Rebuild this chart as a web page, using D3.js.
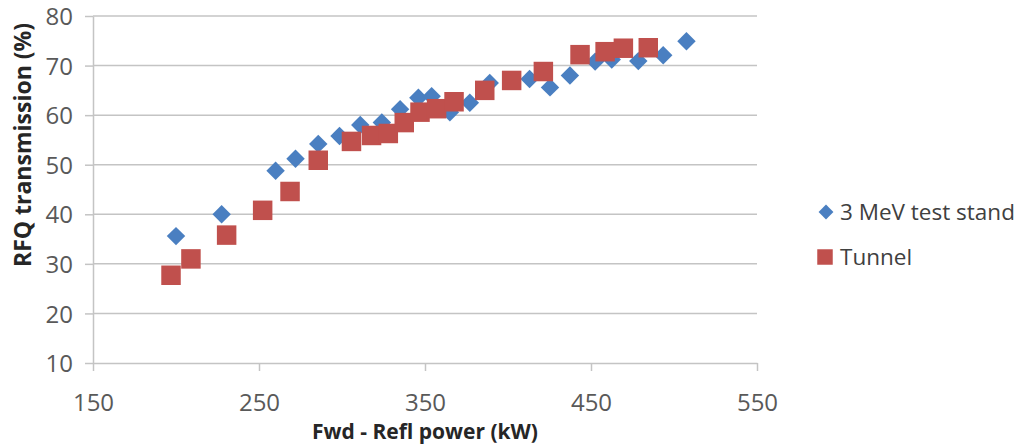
<!DOCTYPE html>
<html lang="en">
<head>
<meta charset="utf-8">
<script src="https://d3js.org/d3.v7.min.js"></script>
<style>
  body { margin: 0; background: #fff; }
  text { font-family: "Open Sans", sans-serif; }
</style>
</head>
<body>

<div id="graph"></div>

<script>

// data
var standPower = [200, 227.5, 260, 272, 285.7, 298.5, 311, 324, 335, 346, 354, 365, 377, 389, 413, 425.3, 437.3, 452.5, 462.5, 478.5, 493.5, 507.5];
var standTrans = [35.6, 40.0, 48.8, 51.2, 54.2, 55.8, 58.0, 58.5, 61.2, 63.5, 63.8, 60.6, 62.5, 66.5, 67.3, 65.6, 68.0, 70.8, 71.2, 70.9, 72.1, 74.9];

var tunnelPower = [197, 209, 230.5, 252.2, 268.7, 285.7, 305.7, 317.8, 327.9, 337.5, 347, 357, 367.5, 386, 402.2, 421.3, 443.4, 458.5, 469.5, 484.5];
var tunnelTrans = [27.7, 31.0, 35.8, 40.8, 44.6, 50.9, 54.7, 55.9, 56.3, 58.5, 60.6, 61.3, 62.7, 65.0, 67.0, 68.8, 72.2, 72.8, 73.5, 73.6];

var xTicks = [150, 250, 350, 450, 550];
var yTicks = [10, 20, 30, 40, 50, 60, 70, 80];
var seriesNames = ["3 MeV test stand", "Tunnel"];

var W = 1021, H = 445;
var margin = {top: 16, right: 264, bottom: 82, left: 93},
    width = W - margin.left - margin.right,
    height = H - margin.top - margin.bottom;

var svg = d3.select("#graph")
  .append("svg")
    .attr("width", W)
    .attr("height", H);

var g = svg.append("g")
    .attr("transform", "translate(" + margin.left + "," + margin.top + ")");

var x = d3.scaleLinear()
  .domain([150, 550])
  .range([0, width]);

var y = d3.scaleLinear()
  .domain([10, 80])
  .range([height, 0]);

var gridColor = "#c4c4c4";

// horizontal gridlines
g.append("g")
  .selectAll("line")
  .data(yTicks.slice(1))
  .enter()
  .append("line")
    .attr("x1", 0)
    .attr("x2", width)
    .attr("y1", function (d) { return y(d); })
    .attr("y2", function (d) { return y(d); })
    .attr("stroke", gridColor)
    .attr("stroke-width", 1.5);

// X axis
var xAxis = g.append("g")
  .attr("transform", "translate(0," + height + ")")
  .call(d3.axisBottom(x).tickValues(xTicks).tickSize(8).tickSizeOuter(0).tickPadding(23));

// Y axis
var yAxis = g.append("g")
  .call(d3.axisLeft(y).tickValues(yTicks).tickSize(8).tickSizeOuter(0).tickPadding(12));

[xAxis, yAxis].forEach(function (a) {
  a.select(".domain").attr("stroke", gridColor).attr("stroke-width", 1.5);
  a.selectAll(".tick line").attr("stroke", gridColor).attr("stroke-width", 1.5);
  a.selectAll(".tick text")
    .attr("fill", "#595959")
    .style("font-size", "24px")
    .style("font-family", "'Open Sans', sans-serif");
});
yAxis.selectAll(".tick text").attr("dy", "0.36em");

// axis titles
svg.append("text")
  .attr("text-anchor", "middle")
  .attr("x", 425)
  .attr("y", 432)
  .attr("dy", "0.35em")
  .attr("fill", "#262626")
  .style("font-weight", "bold")
  .style("font-size", "21px")
  .text("Fwd - Refl power (kW)");

svg.append("text")
  .attr("text-anchor", "middle")
  .attr("transform", "translate(23,145) rotate(-90)")
  .attr("dy", "0.35em")
  .attr("fill", "#262626")
  .style("font-weight", "bold")
  .style("font-size", "23px")
  .text("RFQ transmission (%)");

var blue = "#4a7fc1", red = "#c0504d";

var standData = standPower.map(function (p, i) { return {p: p, t: standTrans[i]}; });
var tunnelData = tunnelPower.map(function (p, i) { return {p: p, t: tunnelTrans[i]}; });

var diamond = d3.symbol().type(d3.symbolSquare).size(170);
var square = d3.symbol().type(d3.symbolSquare).size(380);

// 3 MeV test stand
g.append("g")
  .selectAll("path")
  .data(standData)
  .enter()
  .append("path")
    .attr("d", diamond)
    .attr("transform", function (d) { return "translate(" + x(d.p) + "," + y(d.t) + ") rotate(45)"; })
    .attr("fill", blue);

// Tunnel
g.append("g")
  .selectAll("path")
  .data(tunnelData)
  .enter()
  .append("path")
    .attr("d", square)
    .attr("transform", function (d) { return "translate(" + x(d.p) + "," + y(d.t) + ")"; })
    .attr("fill", red);

// legend
var legend = svg.append("g");
legend.append("path")
  .attr("d", d3.symbol().type(d3.symbolSquare).size(110))
  .attr("transform", "translate(826,212) rotate(45)")
  .attr("fill", blue);
legend.append("path")
  .attr("d", d3.symbol().type(d3.symbolSquare).size(240))
  .attr("transform", "translate(825,257)")
  .attr("fill", red);
legend.selectAll("text")
  .data(seriesNames)
  .enter()
  .append("text")
    .attr("x", 840)
    .attr("y", function (d, i) { return 212 + i * 45; })
    .attr("dy", "0.35em")
    .attr("fill", "#404040")
    .style("font-size", "22.5px")
    .text(function (d) { return d; });

</script>
</body>
</html>
